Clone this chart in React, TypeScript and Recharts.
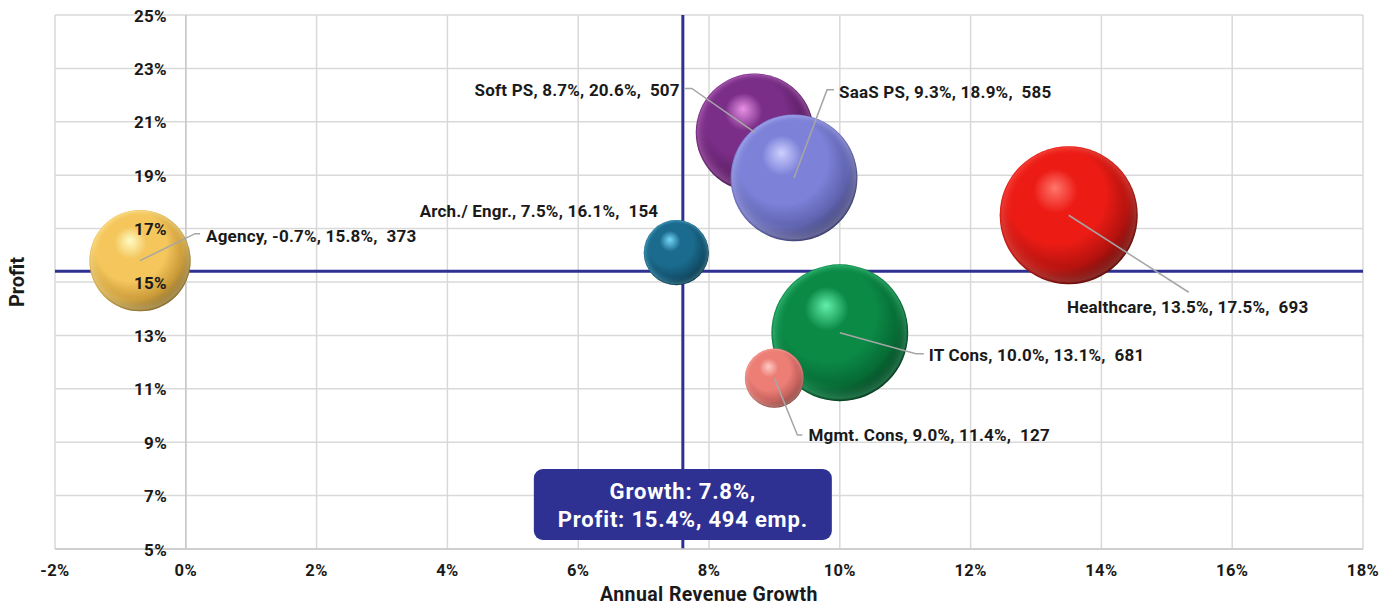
import {
  ScatterChart,
  Scatter,
  XAxis,
  YAxis,
  ZAxis,
  CartesianGrid,
  ReferenceLine,
} from 'recharts';

// values
const sectors = ['Agency', 'Arch./ Engr.', 'Soft PS', 'SaaS PS', 'Healthcare', 'IT Cons', 'Mgmt. Cons'];
const growth = [-0.7, 7.5, 8.7, 9.3, 13.5, 10.0, 9.0];
const profit = [15.8, 16.1, 20.6, 18.9, 17.5, 13.1, 11.4];
const employees = [373, 154, 507, 585, 693, 681, 127];

const xTicks = [-2, 0, 2, 4, 6, 8, 10, 12, 14, 16, 18];
const yTicks = [5, 7, 9, 11, 13, 15, 17, 19, 21, 23, 25];

const avgGrowthLine = 7.6;
const avgProfitLine = 15.4;
const summaryLines = ['Growth: 7.8%,', 'Profit: 15.4%, 494 emp.'];

// sphere colours: highlight, main, shade, dark edge
const sphereColors = [
  ['#fffbc4', '#f4c65c', '#c99a38', '#5e4210'],
  ['#74d8f8', '#1b6b8e', '#12506c', '#041820'],
  ['#e891e6', '#7a2e87', '#5c1f66', '#1c0422'],
  ['#cdd0ff', '#7d81d8', '#5f62ad', '#1f2042'],
  ['#ff766c', '#ec1c15', '#b3120e', '#280000'],
  ['#62f0aa', '#0b8a46', '#066a34', '#001508'],
  ['#ffcbc3', '#ec7e76', '#c2605a', '#5e2c28'],
];

// label placement relative to bubble centre (layout only)
type Placement = { elbow?: [number, number]; end?: [number, number]; text: [number, number]; anchor: 'start' | 'end' | 'middle' };
const placements: Placement[] = [
  { elbow: [55, -27], end: [60, -27], text: [66, -25], anchor: 'start' },
  { text: [-18, -42], anchor: 'end' },
  { elbow: [-63, -44], end: [-70, -44], text: [-75, -42], anchor: 'end' },
  { elbow: [33, -88], end: [40, -88], text: [45, -86], anchor: 'start' },
  { elbow: [120, 77], text: [119, 92], anchor: 'middle' },
  { elbow: [76, 21], end: [84, 21], text: [89, 22], anchor: 'start' },
  { elbow: [23, 57], end: [28, 57], text: [34, 57], anchor: 'start' },
];

const data = sectors.map((name, i) => ({
  name,
  x: growth[i],
  y: profit[i],
  z: employees[i],
  idx: i,
}));

const FONT = 'Roboto, "Noto Sans", sans-serif';
const INK = '#1a1a1a';
const NAVY = '#2f3192';

const pct = (v: number) => `${v}%`;

const YTick = (props: any) => {
  const { y, payload } = props;
  return (
    <text x={167} y={y} dy={6.5} textAnchor="end" fontFamily={FONT} fontSize={17} fontWeight={700} letterSpacing={0.3} fill={INK}>
      {pct(payload.value)}
    </text>
  );
};

const Bubble = (props: any) => {
  const { cx, cy, payload } = props;
  const r = props.width ? props.width / 2 : Math.sqrt((props.size || 0) / Math.PI);
  return (
    <g>
      <circle cx={cx} cy={cy} r={r} fill={`url(#sph-${payload.idx})`} />
      <circle cx={cx} cy={cy} r={r} fill={`url(#rim-${payload.idx})`} />
    </g>
  );
};

const BubbleLabel = (props: any) => {
  const { cx, cy, payload } = props;
  const p = placements[payload.idx];
  const pts: string[] = [`${cx},${cy}`];
  if (p.elbow) pts.push(`${cx + p.elbow[0]},${cy + p.elbow[1]}`);
  if (p.end) pts.push(`${cx + p.end[0]},${cy + p.end[1]}`);
  const text = `${payload.name}, ${payload.x.toFixed(1)}%, ${payload.y.toFixed(1)}%,  ${payload.z}`;
  return (
    <g>
      {pts.length > 1 && <polyline points={pts.join(' ')} fill="none" stroke="#a6a6a6" strokeWidth={1.5} />}
      <text
        x={cx + p.text[0]}
        y={cy + p.text[1]}
        dy="0.35em"
        textAnchor={p.anchor}
        fontFamily={FONT}
        fontSize={17}
        fontWeight={700}
        letterSpacing={0.2}
        fill={INK}
        style={{ whiteSpace: 'pre' }}
      >
        {text}
      </text>
    </g>
  );
};

const SummaryBox = (props: any) => {
  const vb = props.viewBox || {};
  const w = 298;
  const h = 71;
  const left = vb.x - w / 2;
  const top = vb.y + vb.height - 9 - h;
  return (
    <g>
      <rect x={left} y={top} width={w} height={h} rx={9} fill={NAVY} />
      {summaryLines.map((line, i) => (
        <text
          key={i}
          x={vb.x}
          y={top + 30 + i * 28}
          textAnchor="middle"
          fontFamily={FONT}
          fontSize={22}
          fontWeight={700}
          letterSpacing={0.8}
          fill="#ffffff"
        >
          {line}
        </text>
      ))}
    </g>
  );
};

const ProfitTitle = (props: any) => {
  const vb = props.viewBox || {};
  const cy = vb.y + vb.height / 2;
  return (
    <text
      x={17}
      y={cy}
      transform={`rotate(-90, 17, ${cy})`}
      textAnchor="middle"
      dy="0.35em"
      fontFamily={FONT}
      fontSize={20}
      fontWeight={700}
      fill={INK}
    >
      Profit
    </text>
  );
};

export default function App() {
  return (
    <div style={{ width: 1395, height: 606, overflow: 'hidden', background: '#fff' }}>
      <style>{`body{margin:0}`}</style>
      <ScatterChart width={1395} height={606} margin={{ top: 15, right: 32, bottom: 0, left: 0 }}>
        <defs>
          {sphereColors.map((c, i) => (
            <radialGradient key={`s${i}`} id={`sph-${i}`} cx="0.42" cy="0.4" r="0.64" fx="0.4" fy="0.3">
              <stop offset="0" stopColor={c[0]} />
              <stop offset="0.25" stopColor={c[1]} />
              <stop offset="0.55" stopColor={c[1]} />
              <stop offset="0.8" stopColor={c[2]} />
              <stop offset="1" stopColor={c[3]} />
            </radialGradient>
          ))}
          {sphereColors.map((c, i) => (
            <radialGradient key={`r${i}`} id={`rim-${i}`} cx="0.5" cy="0.5" r="0.5" fx="0.5" fy="0.3">
              <stop offset="0.8" stopColor={c[1]} stopOpacity={0} />
              <stop offset="0.97" stopColor={c[0]} stopOpacity={0.35} />
              <stop offset="1" stopColor={c[1]} stopOpacity={0.2} />
            </radialGradient>
          ))}
        </defs>
        <CartesianGrid stroke="#d9d9d9" strokeWidth={1.5} />
        <XAxis
          type="number"
          dataKey="x"
          domain={[-2, 18]}
          ticks={xTicks}
          tickFormatter={pct}
          height={57}
          axisLine={{ stroke: '#c8c8c8', strokeWidth: 1.5 }}
          tickLine={false}
          tickMargin={9}
          tick={{ fontFamily: FONT, fontSize: 16.5, fontWeight: 700, fill: INK, letterSpacing: 0.4 }}
          label={{ value: 'Annual Revenue Growth', position: 'insideBottom', offset: 5, fontFamily: FONT, fontSize: 19.5, fontWeight: 700, fill: INK, letterSpacing: 0.4 }}
        />
        <YAxis
          type="number"
          dataKey="y"
          domain={[5, 25]}
          ticks={yTicks}
          width={55}
          axisLine={false}
          tickLine={false}
          tick={<YTick />}
          label={{ content: <ProfitTitle /> }}
        />
        <ZAxis type="number" dataKey="z" domain={[0, 693]} range={[0, Math.PI * 69 * 69]} />
        <ReferenceLine x={0} stroke="#c8c8c8" strokeWidth={1.5} />
        <ReferenceLine y={avgProfitLine} stroke={NAVY} strokeWidth={3} />
        <ReferenceLine x={avgGrowthLine} stroke={NAVY} strokeWidth={3} label={{ content: <SummaryBox /> }} />
        <Scatter data={data} shape={<Bubble />} isAnimationActive={false} />
        <Scatter data={data} shape={<BubbleLabel />} isAnimationActive={false} />
      </ScatterChart>
    </div>
  );
}
